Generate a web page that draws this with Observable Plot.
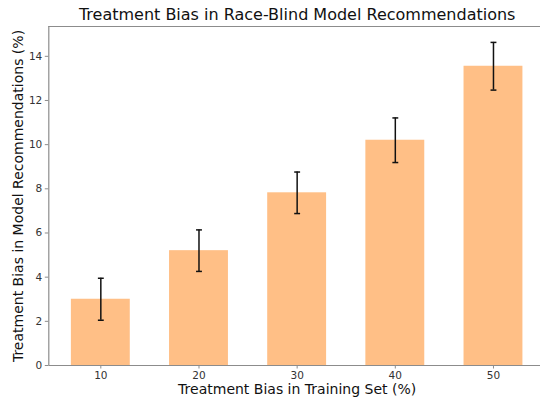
<!DOCTYPE html>
<html>
<head>
<meta charset="utf-8">
<script src="https://cdn.jsdelivr.net/npm/d3@7"></script>
<script src="https://cdn.jsdelivr.net/npm/@observablehq/plot@0.6"></script>
<style>
  html, body { margin: 0; padding: 0; background: #fff; overflow: hidden; }
  #chart { width: 540px; height: 402px; overflow: hidden; }
  #chart svg { display: block; max-width: none; }
</style>
</head>
<body>
<div id="chart"></div>
<script>
const trainingBias = [10, 20, 30, 40, 50];
const modelBias = [3.0, 5.2, 7.82, 10.2, 13.55];
const errorSize = [0.95, 0.94, 0.94, 1.01, 1.08];
const yTicks = [0, 2, 4, 6, 8, 10, 12, 14];
const xTicks = [10, 20, 30, 40, 50];
const xDomain = [4.7, 55.3];
const yDomain = [0, 15.35];
const barWidth = 6;
const capHalf = 0.3;

const data = trainingBias.map((x, i) => ({x, y: modelBias[i], e: errorSize[i]}));

const font = "DejaVu Sans";
const spine = "#8c8c8c";

const chart = Plot.plot({
  width: 548,
  height: 402,
  marginLeft: 48.3,
  marginRight: 3,
  marginTop: 26,
  marginBottom: 37,
  style: {fontFamily: font, fontSize: "10px", color: "#333", background: "#fff", maxWidth: "none"},
  x: {domain: xDomain, ticks: xTicks, label: null},
  y: {domain: yDomain, ticks: yTicks, label: null},
  marks: [
    Plot.rectY(data, {x1: d => d.x - barWidth / 2, x2: d => d.x + barWidth / 2, y: "y", fill: "#ffbf86"}),
    Plot.ruleX(data, {x: "x", y1: d => d.y - d.e, y2: d => d.y + d.e, stroke: "#111", strokeWidth: 1.5}),
    Plot.link(data, {x1: d => d.x - capHalf, x2: d => d.x + capHalf, y1: d => d.y + d.e, y2: d => d.y + d.e, stroke: "#111", strokeWidth: 1.5}),
    Plot.link(data, {x1: d => d.x - capHalf, x2: d => d.x + capHalf, y1: d => d.y - d.e, y2: d => d.y - d.e, stroke: "#111", strokeWidth: 1.5}),
    Plot.ruleY([yDomain[0]], {stroke: spine, strokeWidth: 1.2}),
    Plot.ruleY([yDomain[1]], {stroke: spine, strokeWidth: 1.2}),
    Plot.ruleX([xDomain[0]], {stroke: spine, strokeWidth: 1.2}),
    Plot.axisX({ticks: xTicks, tickSize: 3.5, tickPadding: 3, stroke: spine, color: "#333", fontSize: 10.5, label: null}),
    Plot.axisY({ticks: yTicks, tickSize: 3.5, tickPadding: 3, stroke: spine, color: "#333", fontSize: 10.5, label: null}),
    Plot.text(["Treatment Bias in Race-Blind Model Recommendations"], {frameAnchor: "top", dy: -18, fontSize: 16, fill: "#111", fontFamily: font}),
    Plot.text(["Treatment Bias in Training Set (%)"], {frameAnchor: "bottom", dy: 28, fontSize: 14, fill: "#111", fontFamily: font}),
    Plot.text(["Treatment Bias in Model Recommendations (%)"], {frameAnchor: "left", dx: -30, rotate: -90, textAnchor: "middle", fontSize: 14, fill: "#111", fontFamily: font})
  ]
});
document.getElementById("chart").appendChild(chart);
</script>
</body>
</html>
